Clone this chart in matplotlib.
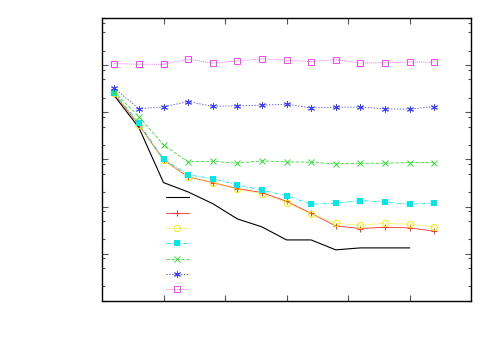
import matplotlib
matplotlib.use("Agg")
import matplotlib.pyplot as plt
from matplotlib.ticker import FixedLocator, NullFormatter

# x positions of the samples
x = [0.2, 0.6, 1.0, 1.4, 1.8, 2.2, 2.6, 3.0, 3.4, 3.8, 4.2, 4.6, 5.0, 5.4]

# series values (log y axis)
black = [0.227, 0.0474, 0.00322, 0.00204, 0.00115, 0.000546, 0.000369,
         0.000195, 0.000195, 0.00012, 0.000132, 0.000132, 0.000132]
red = [0.247, 0.0542, 0.00977, 0.00426, 0.00322, 0.0024, 0.00198,
       0.00129, 0.000714, 0.000387, 0.00034, 0.000363, 0.000351, 0.000299]
yellow = [0.253, 0.0542, 0.00977, 0.0042, 0.00322, 0.00233, 0.00185,
          0.00121, 0.000697, 0.000442, 0.000401, 0.000442, 0.00042, 0.000369]
cyan = [0.263, 0.0597, 0.01026, 0.0047, 0.00392, 0.00288, 0.00222,
        0.0017, 0.00112, 0.00117, 0.00134, 0.00124, 0.00112, 0.00117]
green = [0.272, 0.0813, 0.0204, 0.00887, 0.00918, 0.00832, 0.00931,
         0.00887, 0.00873, 0.00804, 0.00832, 0.00832, 0.00857, 0.00857]
blue = [0.326, 0.119, 0.131, 0.169, 0.135, 0.137, 0.142,
        0.149, 0.124, 0.129, 0.129, 0.119, 0.117, 0.133]
magenta = [1.09, 1.05, 1.05, 1.35, 1.11, 1.24, 1.37,
           1.28, 1.2, 1.32, 1.11, 1.14, 1.18, 1.16]

x_ticks = [1, 2, 3, 4, 5]
y_major = [1e-5, 1e-4, 1e-3, 1e-2, 1e-1, 1, 10]
y_minor = [m * 10.0 ** k for k in range(-5, 1) for m in (2, 5, 8)]

fig = plt.figure(figsize=(5, 3.5), dpi=100)
ax = fig.add_axes([0.204, 0.141, 0.738, 0.807])

lw = 0.6
ax.plot(x[:len(black)], black, color="black", lw=0.8, label=" ")
ax.plot(x, red, color="#ff3030", lw=lw, marker="+", ms=5, mew=0.7,
        label=" ")
ax.plot(x, yellow, color="#f0f000", lw=lw, ls=(0, (1.5, 1.5)), marker="o",
        ms=4.5, mfc="none", mew=0.7, label=" ")
ax.plot(x, cyan, color="#00e8e8", lw=lw, ls=(0, (5, 2, 1, 2)), marker="s",
        ms=4.5, mew=0, label=" ")
ax.plot(x, green, color="#30e030", lw=lw, ls=(0, (4, 2)), marker="x",
        ms=4.5, mew=0.7, label=" ")
ax.plot(x, blue, color="#4040ff", lw=lw, ls=(0, (1.5, 2)), marker=(6, 2, 0),
        ms=5, mew=0.7, label=" ")
ax.plot(x, magenta, color="#ff40ff", lw=lw, ls=(0, (1, 1.5)), marker="s",
        ms=4.5, mfc="none", mew=0.7, label=" ")

ax.set_yscale("log")
ax.set_xlim(0, 6)
ax.set_ylim(1e-5, 10)
ax.xaxis.set_major_locator(FixedLocator(x_ticks))
ax.xaxis.set_minor_locator(FixedLocator([]))
ax.yaxis.set_major_locator(FixedLocator(y_major))
ax.yaxis.set_minor_locator(FixedLocator(y_minor))
ax.xaxis.set_major_formatter(NullFormatter())
ax.yaxis.set_major_formatter(NullFormatter())
ax.yaxis.set_minor_formatter(NullFormatter())
ax.tick_params(which="both", direction="in", top=True, right=True,
               color="#555555")
ax.tick_params(which="major", length=4, width=0.8)
ax.tick_params(which="minor", length=2.2, width=0.8)
for sp in ax.spines.values():
    sp.set_linewidth(1.0)

ax.legend(loc="upper left", bbox_to_anchor=(0.173, 0.381), frameon=False,
          fontsize=8, handlelength=2.07, handleheight=1.0, labelspacing=0.41,
          handletextpad=0.2, borderpad=0, borderaxespad=0)

fig.savefig("out.png", dpi=100)
